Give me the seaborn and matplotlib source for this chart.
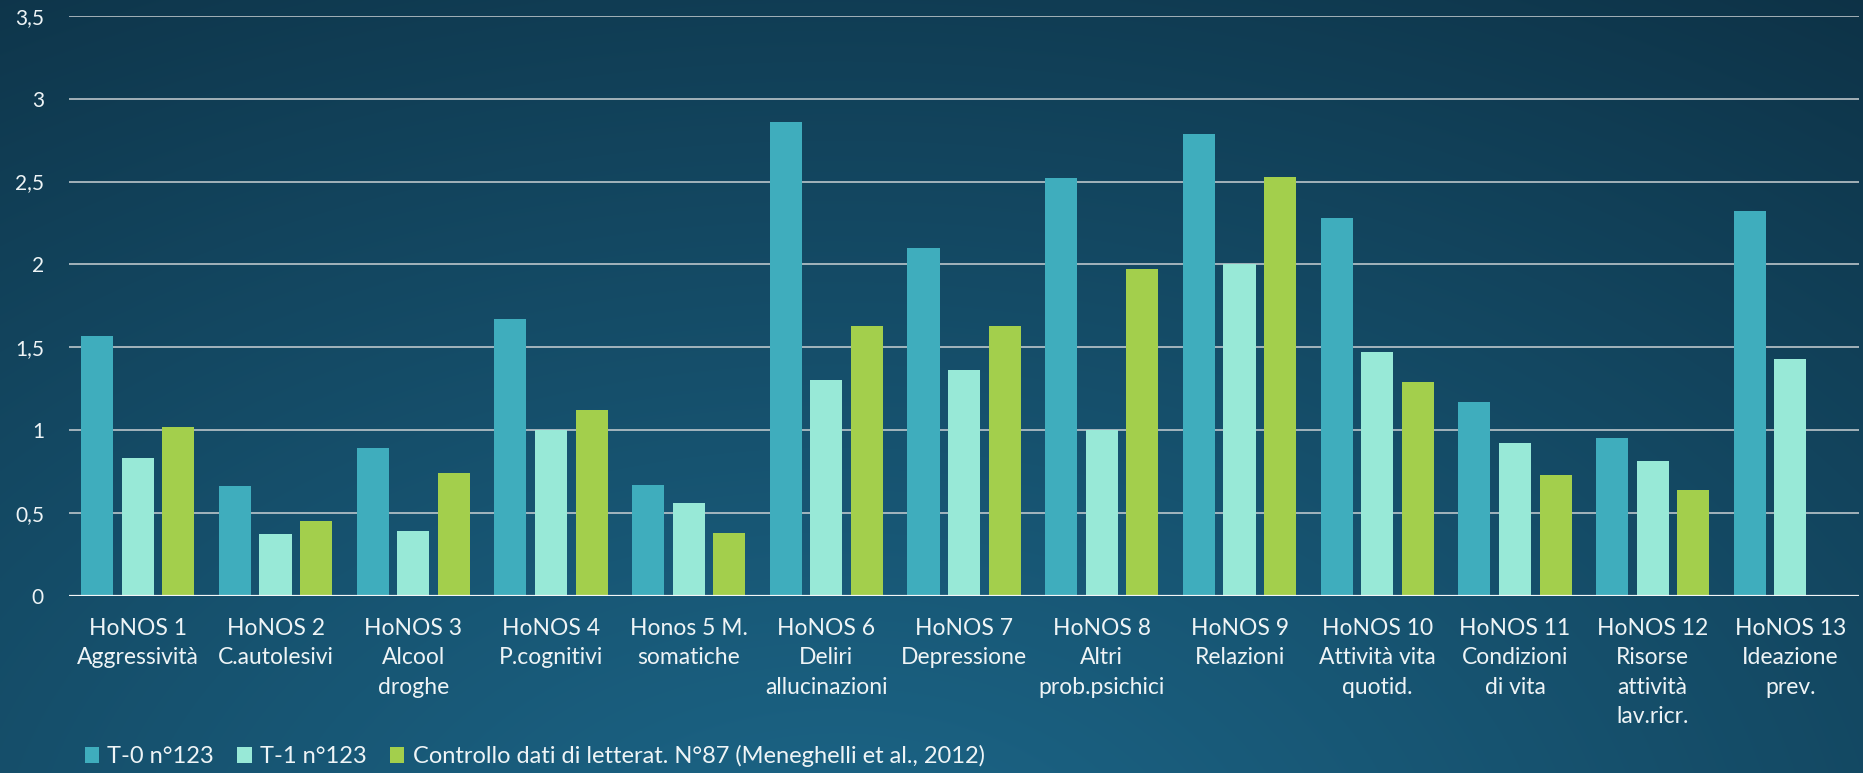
import numpy as np
import pandas as pd
import matplotlib
matplotlib.use("Agg")
import matplotlib.pyplot as plt
from matplotlib.colors import to_rgb
import seaborn as sns

# HoNOS item labels
categories = [
    "HoNOS 1\nAggressività",
    "HoNOS 2\nC.autolesivi",
    "HoNOS 3\nAlcool\ndroghe",
    "HoNOS 4\nP.cognitivi",
    "Honos 5 M.\nsomatiche",
    "HoNOS 6\nDeliri\nallucinazioni",
    "HoNOS 7\nDepressione",
    "HoNOS 8\nAltri\nprob.psichici",
    "HoNOS 9\nRelazioni",
    "HoNOS 10\nAttività vita\nquotid.",
    "HoNOS 11\nCondizioni\ndi vita",
    "HoNOS 12\nRisorse\nattività\nlav.ricr.",
    "HoNOS 13\nIdeazione\nprev.",
]

series_names = [
    "T-0 n°123",
    "T-1 n°123",
    "Controllo dati di letterat. N°87 (Meneghelli et al., 2012)",
]

t0_values = [1.57, 0.66, 0.89, 1.67, 0.67, 2.86, 2.10, 2.52, 2.79, 2.28, 1.17, 0.95, 2.32]
t1_values = [0.83, 0.37, 0.39, 1.00, 0.56, 1.30, 1.36, 1.00, 2.00, 1.47, 0.92, 0.81, 1.43]
control_values = [1.02, 0.45, 0.74, 1.12, 0.38, 1.63, 1.63, 1.97, 2.53, 1.29, 0.73, 0.64, np.nan]

y_ticks = [0, 0.5, 1, 1.5, 2, 2.5, 3, 3.5]
y_tick_labels = ["0", "0,5", "1", "1,5", "2", "2,5", "3", "3,5"]

palette = ["#3fadbd", "#98e9d7", "#a3cf4c"]
text_color = "#eef4f6"

df = pd.DataFrame({
    "item": categories * 3,
    "serie": [series_names[0]] * 13 + [series_names[1]] * 13 + [series_names[2]] * 13,
    "valore": t0_values + t1_values + control_values,
})

sns.set_theme(style="white")
plt.rcParams["font.family"] = ["Lato", "DejaVu Sans"]

fig = plt.figure(figsize=(18.63, 7.73), dpi=100)

# dark teal radial background
h, w = 400, 960
yy, xx = np.mgrid[0:h, 0:w]
fx = xx / (w - 1)
fy = yy / (h - 1)
d = np.sqrt(((fx - 0.45) * 1.5) ** 2 + (fy - 1.15) ** 2)
t = np.clip(d / 1.45, 0, 1) ** 1.1
c_in = np.array(to_rgb("#1c6688"))
c_out = np.array(to_rgb("#0d3145"))
img = c_in[None, None, :] * (1 - t[..., None]) + c_out[None, None, :] * t[..., None]
bg = fig.add_axes([0, 0, 1, 1], zorder=-10)
bg.imshow(img, aspect="auto", extent=[0, 1, 0, 1], interpolation="bilinear")
bg.set_axis_off()

ax = fig.add_axes([0.037, 0.2296, 0.961, 0.7497])
ax.set_facecolor("none")

sns.barplot(
    data=df, x="item", y="valore", hue="serie",
    hue_order=series_names, order=categories,
    palette=palette, width=0.885, gap=0.21,
    saturation=1, errorbar=None, ax=ax, zorder=3,
    linewidth=0, edgecolor="none",
)

ax.set_ylim(0, 3.5)
ax.set_xlim(-0.5, len(categories) - 0.5)
ax.set_yticks(y_ticks)
ax.set_yticklabels(y_tick_labels)
ax.set_xlabel("")
ax.set_ylabel("")

for yv in y_ticks[1:]:
    ax.axhline(yv, color="#c9d0d3", lw=1.3, alpha=0.85, zorder=1)
ax.axhline(0, color="#f2f5f6", lw=1.6, zorder=4)

for s in ax.spines.values():
    s.set_visible(False)

ax.tick_params(axis="x", length=0, pad=16, labelsize=16.5, colors=text_color)
ax.tick_params(axis="y", length=0, pad=18, labelsize=15, colors=text_color)
for lbl in ax.get_xticklabels():
    lbl.set_linespacing(1.5)

handles, labels = ax.get_legend_handles_labels()
ax.get_legend().remove()
fig.legend(
    handles, labels, loc="lower left", bbox_to_anchor=(0.034, -0.02),
    ncol=3, frameon=False, fontsize=17, labelcolor=text_color,
    handlelength=0.6, handleheight=0.7, handletextpad=0.35,
    columnspacing=1.0,
)

fig.savefig("out.png", dpi=100)
